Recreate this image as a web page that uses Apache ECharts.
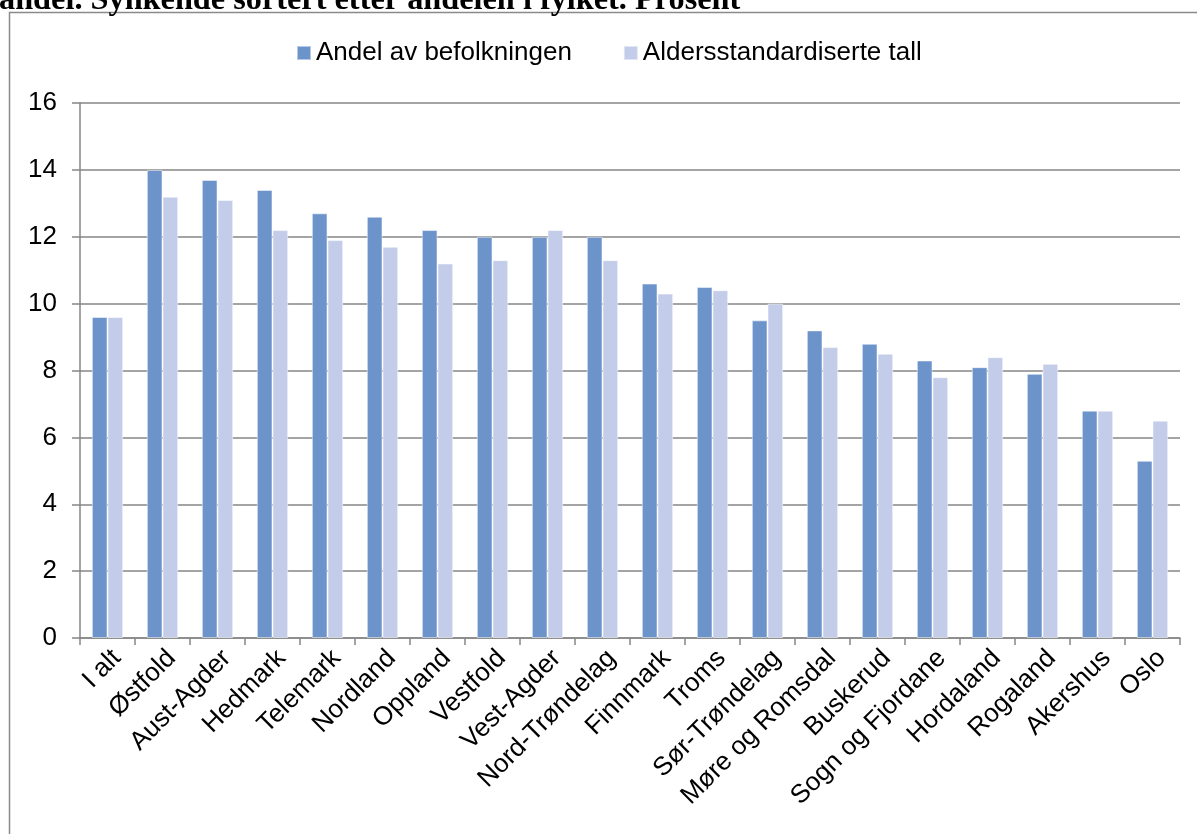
<!DOCTYPE html>
<html>
<head>
<meta charset="utf-8">
<script src="https://cdn.jsdelivr.net/npm/echarts@6/dist/echarts.min.js"></script>
<style>
html,body{margin:0;padding:0;background:#fff;}
#c{width:1197px;height:834px;}
</style>
</head>
<body>
<div id="c"></div>
<script>
const titleText = 'andel. Synkende sortert etter andelen i fylket. Prosent';
const categories = ['I alt','Østfold','Aust-Agder','Hedmark','Telemark','Nordland','Oppland','Vestfold','Vest-Agder','Nord-Trøndelag','Finnmark','Troms','Sør-Trøndelag','Møre og Romsdal','Buskerud','Sogn og Fjordane','Hordaland','Rogaland','Akershus','Oslo'];
const seriesNames = ['Andel av befolkningen','Aldersstandardiserte tall'];
const andel = [9.6,14.0,13.7,13.4,12.7,12.6,12.2,12.0,12.0,12.0,10.6,10.5,9.5,9.2,8.8,8.3,8.1,7.9,6.8,5.3];
const aldersstd = [9.6,13.2,13.1,12.2,11.9,11.7,11.2,11.3,12.2,11.3,10.3,10.4,10.0,8.7,8.5,7.8,8.4,8.2,6.8,6.5];
const yTicks = {min:0, max:16, interval:2};

const font = 'Liberation Sans, Arial, sans-serif';
const chart = echarts.init(document.getElementById('c'), null, {renderer:'canvas'});
chart.setOption({
  backgroundColor:'#ffffff',
  animation:false,
  graphic:[
    {type:'rect', shape:{x:9.5,y:12.5,width:1400,height:1000}, style:{fill:'none',stroke:'#8a8a8a',lineWidth:1.5}, z:0},
    {type:'text', x:-1, y:-15, style:{text:titleText, font:'bold 32.3px "Liberation Serif", "Times New Roman", serif', fill:'#000'}, z:10}
  ],
  legend:{
    data:seriesNames,
    top:35, left:291,
    itemWidth:14, itemHeight:14, itemGap:51,
    icon:'rect',
    textStyle:{fontFamily:font, fontSize:26, color:'#000', padding:[0,0,0,0]}
  },
  grid:{left:80, right:17, top:103, bottom:196, containLabel:false},
  xAxis:{
    type:'category', data:categories,
    axisLine:{show:true, lineStyle:{color:'#868686', width:1.5}},
    axisTick:{show:true, alignWithLabel:false, length:7, lineStyle:{color:'#868686', width:1.5}},
    axisLabel:{rotate:45, margin:7, interval:0, verticalAlign:'top', fontFamily:font, fontSize:26, color:'#000'}
  },
  yAxis:{
    type:'value', min:yTicks.min, max:yTicks.max, interval:yTicks.interval,
    axisLine:{show:true, lineStyle:{color:'#868686', width:1.5}},
    axisTick:{show:true, inside:false, length:8, lineStyle:{color:'#868686', width:1.5}},
    splitLine:{show:true, lineStyle:{color:'#868686', width:1.5}},
    axisLabel:{margin:23, fontFamily:font, fontSize:26, color:'#000'}
  },
  series:[
    {name:seriesNames[0], type:'bar', data:andel, barGap:'0%', barCategoryGap:'43%',
     itemStyle:{color:'#6c94cb', borderColor:'rgba(255,255,255,0.5)', borderWidth:1}},
    {name:seriesNames[1], type:'bar', data:aldersstd, barGap:'0%', barCategoryGap:'43%',
     itemStyle:{color:'#c3cde9', borderColor:'rgba(255,255,255,0.5)', borderWidth:1}}
  ]
});
</script>
</body>
</html>
